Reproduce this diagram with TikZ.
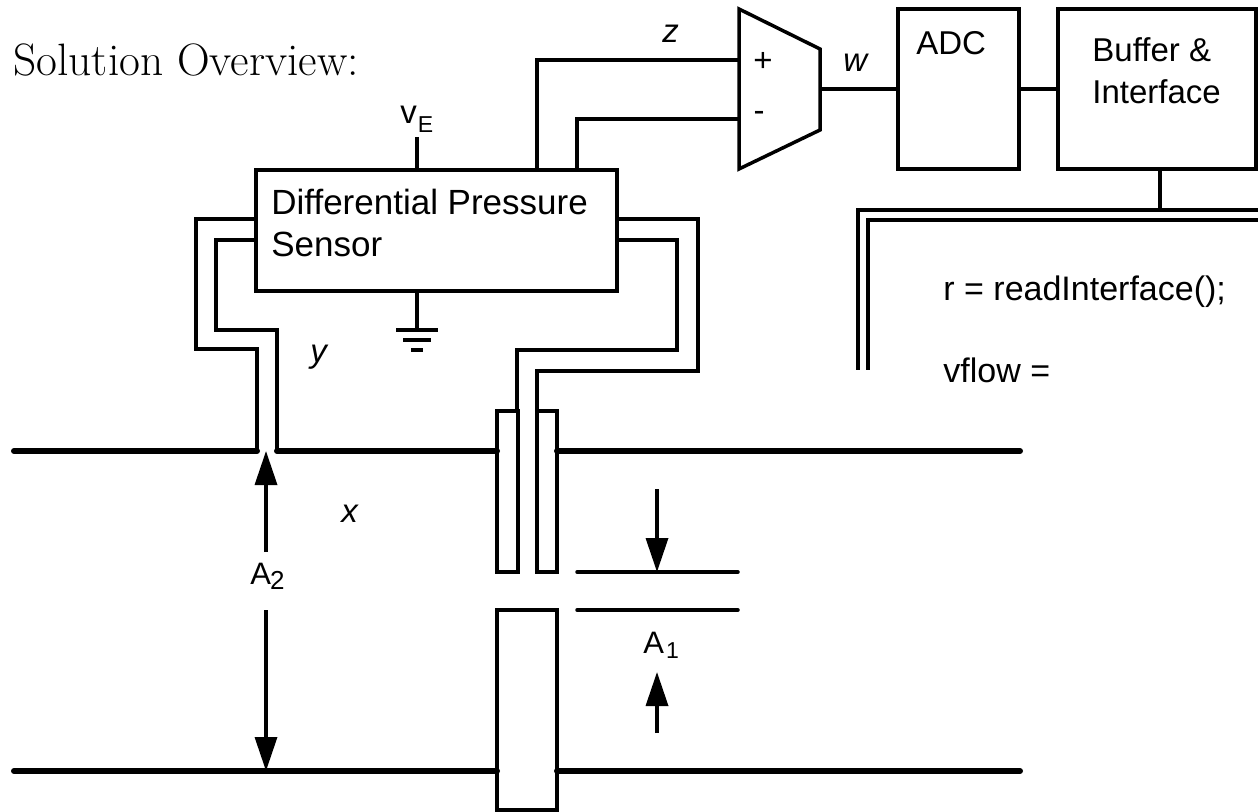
\documentclass[tikz,border=0pt]{standalone}
\usepackage{fontspec}
\setsansfont{Liberation Sans}
\usetikzlibrary{arrows.meta}
\begin{document}
\begin{tikzpicture}[x=0.5pt,y=-0.5pt,
  wire/.style={line width=1.75pt},
  pipe/.style={line width=3pt,line cap=round},
  box/.style={draw,line width=1.75pt,inner sep=0pt,outer sep=0pt},
  lbl/.style={inner sep=0pt,font=\sffamily\fontsize{16.5}{20}\selectfont},
  slbl/.style={inner sep=0pt,font=\sffamily\fontsize{17.5}{21}\selectfont},
  clbl/.style={inner sep=0pt,font=\sffamily\fontsize{17}{20}\selectfont},
  ilbl/.style={inner sep=0pt,font=\sffamily\itshape\fontsize{16.5}{20}\selectfont},
  dimarrow/.style={line width=1.75pt,-{Triangle[length=17pt,width=11pt]}}]
\useasboundingbox (0,0) rectangle (1258,812);

% title
\node[inner sep=0pt,anchor=base west,font=\rmfamily\fontsize{22.7}{27}\selectfont] (title) at (13,76) {Solution Overview:};

% boxes
\node[box,minimum width=180.5pt,minimum height=60.5pt] (sensor) at (436.5,230.5) {};
\node[slbl,anchor=base west] (sensorA) at (271,215) {Differential Pressure};
\node[slbl,anchor=base west] (sensorB) at (271,257) {Sensor};

\node[box,minimum width=60.5pt,minimum height=80pt] (adc) at (958.5,89) {};
\node[lbl,anchor=base west] (adct) at (916,55) {ADC};
\node[box,minimum width=99pt,minimum height=80pt] (buf) at (1157,89) {};
\node[lbl,anchor=base west] (bufA) at (1092,62) {Buffer \&};
\node[lbl,anchor=base west] (bufB) at (1092,104) {Interface};

% supply and ground
\coordinate (vEtop) at (417,137);
\draw[wire] (vEtop) -- (vEtop |- sensor.north);
\node[lbl,anchor=base west] (vE) at (400,124) {v\kern0.5pt\raisebox{-4.5pt}{\fontsize{11.5}{13}\selectfont E}};
\coordinate (gnd) at (417,330);
\draw[wire] (gnd |- sensor.south) -- (gnd);
\draw[wire] (gnd) ++(-21,0) -- ++(42,0);
\draw[wire] (gnd) ++(-14,10) -- ++(28,0);
\draw[wire] (gnd) ++(-6,20) -- ++(12,0);

% amplifier
\coordinate (ampTL) at (739,9);
\coordinate (ampBL) at (739,169);
\coordinate (ampTR) at (820,49);
\coordinate (ampBR) at (820,130);
\coordinate (ampO) at (820,89);
\coordinate (ampP) at (739,60);
\coordinate (ampM) at (739,119);
\draw[wire,line join=miter] (ampTL) -- (ampTR) -- (ampBR) -- (ampBL) -- cycle;
\node[lbl] (plus) at (763,62) {+};
\node[lbl] (minus) at (759,116) {-};
\coordinate (s1) at (537,170);
\coordinate (s2) at (577,170);
\draw[wire] (s1) |- (ampP);
\draw[wire] (s2) |- (ampM);
\draw[wire] (ampO) -- (adc.west);
\draw[wire] (adc.east) -- (buf.west);
\node[ilbl,anchor=base west] (zl) at (662,43) {z};
\node[ilbl,anchor=base west] (wl) at (843,72) {w};

% frame to software
\coordinate (ft) at (1160,210);
\draw[wire] (ft |- buf.south) -- (ft);
\draw[wire] (858,370) -- (858,210) -- (1258,210);
\draw[wire] (868,370) -- (868,220) -- (1258,220);
\node[clbl,anchor=base west] (code1) at (943,301) {r = readInterface();};
\node[clbl,anchor=base west] (code2) at (943,383) {vflow =};

% pressure tubes
\draw[wire] (sensor.west |- 0,219) -- (196,219) -- (196,349) -- (257,349) -- (257,451);
\draw[wire] (sensor.west |- 0,240) -- (216,240) -- (216,330) -- (277,330) -- (277,451);
\draw[wire] (sensor.east |- 0,219) -- (698,219) -- (698,371) -- (537,371) -- (537,411);
\draw[wire] (sensor.east |- 0,240) -- (677,240) -- (677,350) -- (517,350) -- (517,411);
\node[ilbl,anchor=base west] (yl) at (310,363) {y};

% orifice plates
\node[box,minimum width=10.5pt,minimum height=80.5pt] (plL) at (507.5,491.5) {};
\node[box,minimum width=10pt,minimum height=80.5pt] (plR) at (547,491.5) {};
\node[box,minimum width=30pt,minimum height=100pt] (plB) at (527,710) {};

% pipe walls
\draw[pipe] (14,451) -- (257,451);
\draw[pipe] (277,451) -- (plL.west |- 0,451);
\draw[pipe] (plR.east |- 0,451) -- (1020,451);
\draw[pipe] (14,771) -- (plB.west |- 0,771);
\draw[pipe] (plB.east |- 0,771) -- (1020,771);

% A2 dimension
\coordinate (a2top) at (266,451);
\coordinate (a2bot) at (266,771);
\draw[dimarrow] (266,552) -- (a2top);
\draw[dimarrow] (266,610) -- (a2bot);
\node[lbl,anchor=base west,font=\sffamily\fontsize{15.5}{18}\selectfont] (A2) at (250,584) {A\kern-0.5pt\raisebox{-2.5pt}{\fontsize{13}{15}\selectfont 2}};
\node[ilbl,anchor=base west] (xl) at (341,523) {x};

% A1 dimension
\coordinate (a1u) at (657,572);
\coordinate (a1l) at (657,610);
\draw[wire,line cap=round] (577,572) -- (738,572);
\draw[wire,line cap=round] (577,610) -- (738,610);
\draw[dimarrow] (657,489) -- (a1u);
\draw[dimarrow] (657,733) -- (657,672);
\node[lbl,anchor=base west,font=\sffamily\fontsize{15.5}{18}\selectfont] (A1) at (643,653) {A\kern1pt\raisebox{-2.5pt}{\fontsize{11.5}{13}\selectfont 1}};
\end{tikzpicture}
\end{document}
